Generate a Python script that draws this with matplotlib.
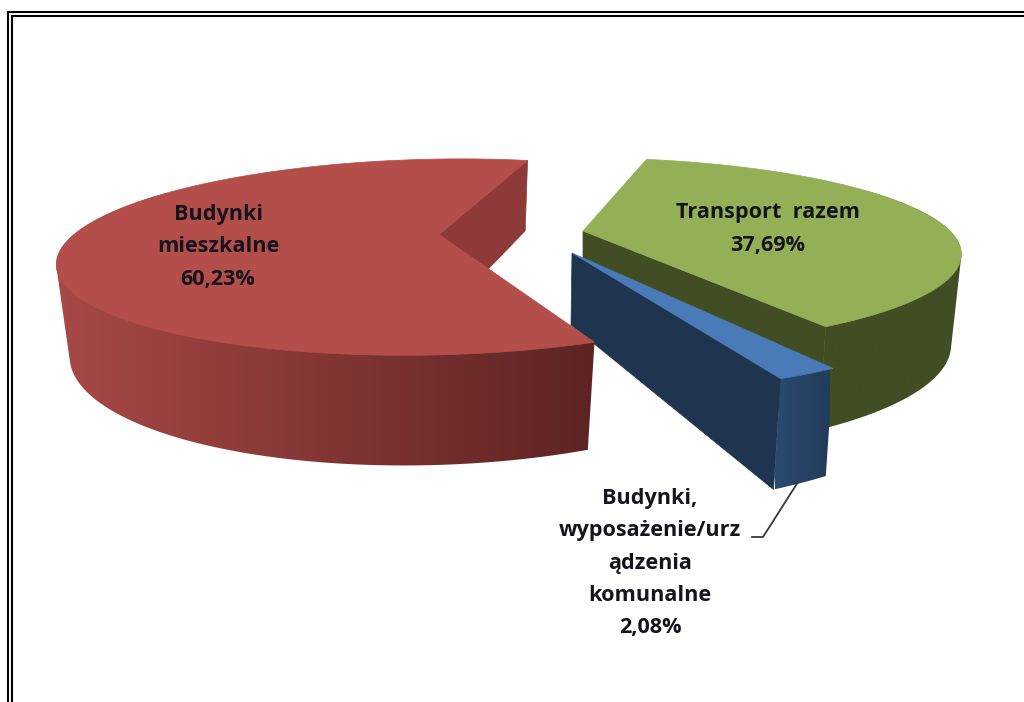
import numpy as np
import matplotlib
matplotlib.use("Agg")
import matplotlib.pyplot as plt
from matplotlib.colors import LinearSegmentedColormap
from matplotlib.patches import Polygon

# --- data ---
categories = ["Transport  razem", "Budynki,\nwyposażenie/urz\nądzenia\nkomunalne", "Budynki\nmieszkalne"]
values = [37.69, 2.08, 60.23]

# --- style and layout ---
START_DEG = 13.0
K = 0.23  # perspective strength
# per wedge: top (apex x, apex y, A, B, C), bottom (apex x, apex y, A, B, C)
PROJ = [
    ((583, 231, 367, -5, 90), (583, 318, 357, -5, 105)),
    ((572, 253, 392, -7, 108.5), (571, 325, 389, -3, 142)),
    ((439, 234.5, 365, 27, 93), (439, 320, 352, 27, 112)),
]
TOP = ["#93b056", "#4a7ab8", "#b44e4b"]
INNER = ["#414d22", "#1f344f", "#8e3a38"]
RIM_LEFT = ["#414d22", "#2a4a70", "#aa4a47"]
RIM_RIGHT = ["#414d22", "#223c5a", "#5c2322"]
RIM_EXTENT = [(600, 980), (775, 830), (40, 603)]
RIM_VISIBLE = [(60, 360), (0, 360), (0, 300)]  # range of angles used for the side walls
LABEL_POS = [(768, 229), (650, 563), (218, 247)]
FONT_SIZE = 15.6
LINESPACING = 1.7
ZORDER = [2, 3, 4]


def project(params, deg):
    ax_, ay_, a, b, c = params
    t = np.radians(np.asarray(deg, dtype=float))
    u, v = np.sin(t), np.cos(t)
    w = 1 + K * v
    return ax_ + (a * u + b * v) / w, ay_ - c * v / w


def convex_hull(points):
    pts = sorted(set(map(tuple, points)))

    def half(seq):
        out = []
        for p in seq:
            while len(out) >= 2 and (out[-1][0] - out[-2][0]) * (p[1] - out[-2][1]) - \
                    (out[-1][1] - out[-2][1]) * (p[0] - out[-2][0]) <= 0:
                out.pop()
            out.append(p)
        return out

    return half(pts)[:-1] + half(pts[::-1])[:-1]


fig = plt.figure(figsize=(10.24, 7.02), dpi=100, facecolor="white")
ax = fig.add_axes([0, 0, 1, 1])
ax.set_xlim(0, 1024)
ax.set_ylim(702, 0)
ax.axis("off")

# double frame: left and top only
for off in (0, 4):
    ax.plot([8 + off, 8 + off, 1024], [702, 12 + off, 12 + off], color="black", lw=1.5,
            solid_joinstyle="miter", zorder=10)

# wedge angles from the values
total = sum(values)
spans = [v / total * 360 for v in values]
starts = START_DEG + np.concatenate(([0], np.cumsum(spans)[:-1]))

for i in range(3):
    top, bot = PROJ[i]
    th = np.linspace(starts[i], starts[i] + spans[i], 240)
    z = ZORDER[i]
    # cut wall seen through the gap
    tx, ty = project(top, th[-1])
    bx, by = project(bot, th[-1])
    ax.add_patch(Polygon([(top[0], top[1]), (tx, ty), (bx, by), (bot[0], bot[1])],
                         closed=True, fc=INNER[i], ec=INNER[i], lw=0.5, zorder=z))
    # outer rim with a horizontal gradient, clipped to the extruded outline
    lo, hi = RIM_VISIBLE[i]
    rim = th[(th >= lo) & (th <= hi)]
    tx, ty = project(top, rim)
    bx, by = project(bot, rim)
    hull = convex_hull(np.column_stack([np.r_[tx, bx], np.r_[ty, by]]))
    outline = Polygon(hull, closed=True, fc="none", ec="none", zorder=z + 0.1)
    ax.add_patch(outline)
    x0, x1 = RIM_EXTENT[i]
    cmap = LinearSegmentedColormap.from_list("rim", [RIM_LEFT[i], RIM_RIGHT[i]])
    im = ax.imshow(np.linspace(0, 1, 256)[None, :], extent=(x0, x1, 702, 0), aspect="auto",
                   cmap=cmap, zorder=z + 0.1)
    im.set_clip_path(outline)
    ax.set_xlim(0, 1024)
    ax.set_ylim(702, 0)
    # top face
    px, py = project(top, th)
    ax.add_patch(Polygon(np.column_stack([np.r_[top[0], px], np.r_[top[1], py]]),
                         closed=True, fc=TOP[i], ec=TOP[i], lw=0.5, zorder=z + 0.2))

# leader line
ax.plot([798, 763, 752], [482, 537, 537], color="#383838", lw=1.3, zorder=6)

# labels
for name, val, (lx, ly) in zip(categories, values, LABEL_POS):
    txt = f"{name}\n{val:.2f}".replace(".", ",") + "%"
    ax.text(lx, ly, txt, ha="center", va="center", family="Open Sans", weight="bold",
            fontsize=FONT_SIZE, color="#14141e", linespacing=LINESPACING, zorder=8)

fig.savefig("out.png", dpi=100, facecolor="white")
